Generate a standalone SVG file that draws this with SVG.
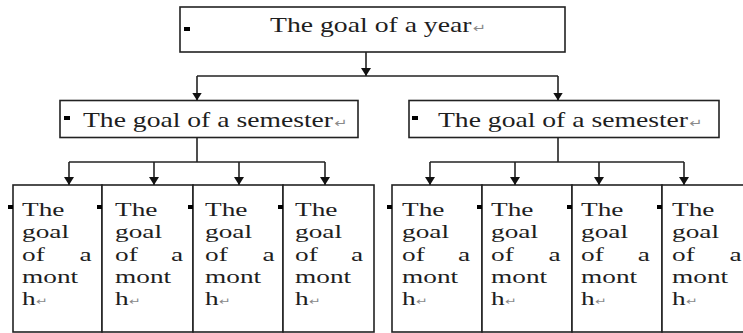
<svg xmlns="http://www.w3.org/2000/svg" width="743" height="333" viewBox="0 0 743 333">
<style>
.box{fill:#fff;stroke:#222;stroke-width:1.6}
.conn{fill:none;stroke:#222;stroke-width:1.6}
.t{font-family:"Liberation Serif","Times New Roman",serif;fill:#1e1e1e}
.big{font-size:21px}
.mt{font-size:19.5px}
.ret{font-family:"DejaVu Sans",sans-serif;fill:#8a8a8a}
.big .ret{font-size:12px}
.mt .ret{font-size:10px}
.mk{fill:#000}
</style>
<defs>
<marker id="arr" viewBox="0 0 8 10" refX="8" refY="5" markerWidth="8" markerHeight="10" markerUnits="userSpaceOnUse" orient="auto">
<path d="M0,0 L8,5 L0,10 z" fill="#111"/>
</marker>
</defs>
<rect width="743" height="333" fill="#fff"/>

<g id="year">
<rect class="box" x="180" y="7" width="385" height="45"/>
<rect class="mk" x="184" y="27" width="6" height="4"/>
<text class="t big" transform="translate(270,32) scale(1.32,1)">The goal of a year<tspan class="ret" dx="1">↵</tspan></text>
</g>

<g id="semester-1">
<rect class="box" x="60" y="100.5" width="298" height="37"/>
<rect class="mk" x="64" y="116" width="6" height="4"/>
<text class="t big" transform="translate(83,127) scale(1.316,1)">The goal of a semester<tspan class="ret" dx="1">↵</tspan></text>
</g>

<g id="semester-2">
<rect class="box" x="409" y="100.5" width="310" height="37"/>
<rect class="mk" x="412" y="116" width="6" height="4"/>
<text class="t big" transform="translate(438,127) scale(1.316,1)">The goal of a semester<tspan class="ret" dx="1">↵</tspan></text>
</g>

<g id="month-1">
<rect class="box" x="13" y="185" width="89" height="147"/>
<rect class="mk" x="8" y="205" width="5" height="4"/>
<text class="t mt" transform="translate(22,216) scale(1.4,1)"><tspan x="0" y="0">The</tspan><tspan x="0" y="22.3">goal</tspan><tspan x="0" y="44.6">of</tspan><tspan x="41" y="44.6">a</tspan><tspan x="0" y="66.9">mont</tspan><tspan x="0" y="89.2">h</tspan><tspan class="ret">↵</tspan></text>
</g>
<g id="month-2">
<rect class="box" x="102" y="185" width="91" height="147"/>
<rect class="mk" x="97" y="205" width="5" height="4"/>
<text class="t mt" transform="translate(115,216) scale(1.4,1)"><tspan x="0" y="0">The</tspan><tspan x="0" y="22.3">goal</tspan><tspan x="0" y="44.6">of</tspan><tspan x="40" y="44.6">a</tspan><tspan x="0" y="66.9">mont</tspan><tspan x="0" y="89.2">h</tspan><tspan class="ret">↵</tspan></text>
</g>
<g id="month-3">
<rect class="box" x="193" y="185" width="90" height="147"/>
<rect class="mk" x="188" y="205" width="5" height="4"/>
<text class="t mt" transform="translate(205,216) scale(1.4,1)"><tspan x="0" y="0">The</tspan><tspan x="0" y="22.3">goal</tspan><tspan x="0" y="44.6">of</tspan><tspan x="41" y="44.6">a</tspan><tspan x="0" y="66.9">mont</tspan><tspan x="0" y="89.2">h</tspan><tspan class="ret">↵</tspan></text>
</g>
<g id="month-4">
<rect class="box" x="283" y="185" width="91" height="147"/>
<rect class="mk" x="278" y="205" width="5" height="4"/>
<text class="t mt" transform="translate(295,216) scale(1.4,1)"><tspan x="0" y="0">The</tspan><tspan x="0" y="22.3">goal</tspan><tspan x="0" y="44.6">of</tspan><tspan x="40" y="44.6">a</tspan><tspan x="0" y="66.9">mont</tspan><tspan x="0" y="89.2">h</tspan><tspan class="ret">↵</tspan></text>
</g>
<g id="month-5">
<rect class="box" x="392" y="185" width="90" height="147"/>
<rect class="mk" x="387" y="205" width="5" height="4"/>
<text class="t mt" transform="translate(402,216) scale(1.4,1)"><tspan x="0" y="0">The</tspan><tspan x="0" y="22.3">goal</tspan><tspan x="0" y="44.6">of</tspan><tspan x="40" y="44.6">a</tspan><tspan x="0" y="66.9">mont</tspan><tspan x="0" y="89.2">h</tspan><tspan class="ret">↵</tspan></text>
</g>
<g id="month-6">
<rect class="box" x="482" y="185" width="90" height="147"/>
<rect class="mk" x="477" y="205" width="5" height="4"/>
<text class="t mt" transform="translate(491,216) scale(1.4,1)"><tspan x="0" y="0">The</tspan><tspan x="0" y="22.3">goal</tspan><tspan x="0" y="44.6">of</tspan><tspan x="41" y="44.6">a</tspan><tspan x="0" y="66.9">mont</tspan><tspan x="0" y="89.2">h</tspan><tspan class="ret">↵</tspan></text>
</g>
<g id="month-7">
<rect class="box" x="572" y="185" width="90" height="147"/>
<rect class="mk" x="567" y="205" width="5" height="4"/>
<text class="t mt" transform="translate(581,216) scale(1.4,1)"><tspan x="0" y="0">The</tspan><tspan x="0" y="22.3">goal</tspan><tspan x="0" y="44.6">of</tspan><tspan x="40.5" y="44.6">a</tspan><tspan x="0" y="66.9">mont</tspan><tspan x="0" y="89.2">h</tspan><tspan class="ret">↵</tspan></text>
</g>
<g id="month-8">
<rect class="box" x="662" y="185" width="90" height="147"/>
<rect class="mk" x="657" y="205" width="5" height="4"/>
<text class="t mt" transform="translate(672,216) scale(1.4,1)"><tspan x="0" y="0">The</tspan><tspan x="0" y="22.3">goal</tspan><tspan x="0" y="44.6">of</tspan><tspan x="41" y="44.6">a</tspan><tspan x="0" y="66.9">mont</tspan><tspan x="0" y="89.2">h</tspan><tspan class="ret">↵</tspan></text>
</g>

<g id="connectors">
<path class="conn" d="M366,52 V76" marker-end="url(#arr)"/>
<path class="conn" d="M197,76 H558"/>
<path class="conn" d="M197,76 V100.5" marker-end="url(#arr)"/>
<path class="conn" d="M558,76 V100.5" marker-end="url(#arr)"/>
<path class="conn" d="M197,137.5 V162"/>
<path class="conn" d="M69,162 H325"/>
<path class="conn" d="M69,162 V185" marker-end="url(#arr)"/>
<path class="conn" d="M154,162 V185" marker-end="url(#arr)"/>
<path class="conn" d="M239,162 V185" marker-end="url(#arr)"/>
<path class="conn" d="M325,162 V185" marker-end="url(#arr)"/>
<path class="conn" d="M558,137.5 V162"/>
<path class="conn" d="M430,162 H684"/>
<path class="conn" d="M430,162 V185" marker-end="url(#arr)"/>
<path class="conn" d="M515,162 V185" marker-end="url(#arr)"/>
<path class="conn" d="M599,162 V185" marker-end="url(#arr)"/>
<path class="conn" d="M684,162 V185" marker-end="url(#arr)"/>
</g>
</svg>
